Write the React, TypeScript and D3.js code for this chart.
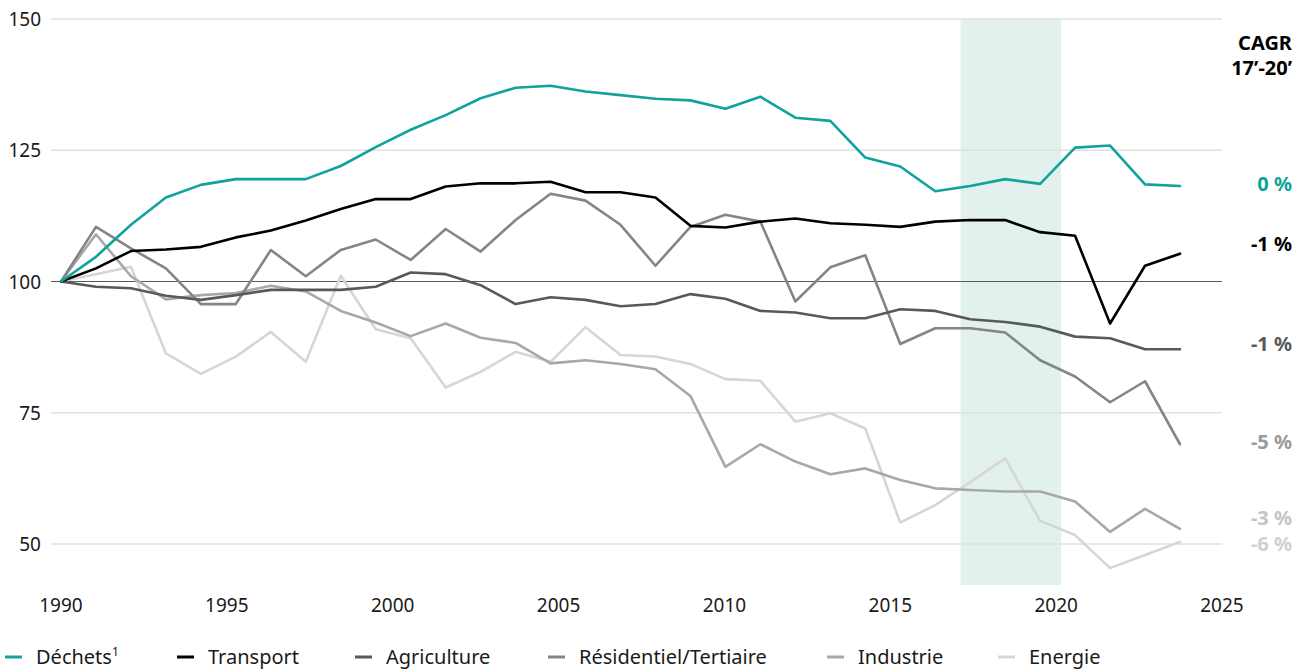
import React from "react";
import * as d3 from "d3";

const years: number[] = d3.range(1990, 2023);
const axisYears: number[] = [1990, 1995, 2000, 2005, 2010, 2015, 2020, 2025];
const yTicks: number[] = [50, 75, 100, 125, 150];

const dechets = [100, 104.7, 110.8, 116.0, 118.4, 119.5, 119.5, 119.5, 122.0, 125.6, 128.9, 131.7, 134.9, 136.9, 137.3, 136.2, 135.5, 134.8, 134.5, 132.9, 135.2, 131.2, 130.6, 123.6, 121.9, 117.2, 118.2, 119.5, 118.6, 125.5, 125.9, 118.5, 118.2];
const transport = [100, 102.5, 105.8, 106.1, 106.6, 108.4, 109.7, 111.6, 113.8, 115.7, 115.7, 118.1, 118.7, 118.7, 119.0, 117.0, 117.0, 116.0, 110.6, 110.3, 111.4, 112.0, 111.1, 110.8, 110.4, 111.4, 111.7, 111.7, 109.4, 108.7, 92.0, 103.0, 105.3];
const agriculture = [100, 99.0, 98.7, 97.3, 96.5, 97.4, 98.4, 98.4, 98.4, 99.0, 101.7, 101.4, 99.3, 95.7, 97.0, 96.5, 95.3, 95.7, 97.6, 96.7, 94.4, 94.1, 93.0, 93.0, 94.7, 94.4, 92.8, 92.3, 91.4, 89.5, 89.2, 87.1, 87.1];
const residentiel = [100, 110.4, 106.3, 102.5, 95.7, 95.7, 106.0, 101.0, 106.0, 108.0, 104.1, 110.0, 105.7, 111.7, 116.7, 115.4, 110.8, 103.0, 110.4, 112.7, 111.4, 96.2, 102.7, 105.0, 88.1, 91.1, 91.1, 90.3, 85.0, 81.9, 77.0, 81.0, 69.0];
const industrie = [100, 109.0, 101.0, 96.6, 97.4, 97.8, 99.2, 98.1, 94.4, 92.2, 89.6, 92.0, 89.3, 88.3, 84.4, 85.0, 84.3, 83.3, 78.2, 64.7, 69.0, 65.7, 63.3, 64.4, 62.2, 60.6, 60.3, 60.0, 60.0, 58.1, 52.3, 56.7, 52.9];
const energie = [100, 101.4, 102.8, 86.3, 82.4, 85.7, 90.4, 84.7, 101.1, 90.9, 89.2, 79.8, 82.8, 86.6, 84.7, 91.3, 86.0, 85.7, 84.3, 81.4, 81.1, 73.3, 74.9, 72.0, 54.1, 57.4, 61.8, 66.3, 54.4, 51.7, 45.4, 47.9, 50.4];

const seriesNames = ["Déchets", "Transport", "Agriculture", "Résidentiel/Tertiaire", "Industrie", "Energie"];
const seriesValues = [dechets, transport, agriculture, residentiel, industrie, energie];
const seriesColors = ["#10a39b", "#000000", "#595959", "#858585", "#a8a8a8", "#d6d6d6"];
const cagrLabels = ["0 %", "-1 %", "-1 %", "-5 %", "-3 %", "-6 %"];
const cagrValues = [118.6, 107.1, 88.1, 69.4, 55.0, 50.0];
const cagrColors = ["#10a39b", "#000000", "#595959", "#9a9a9a", "#c4c4c4", "#d0d0d0"];
const legendX = [5, 177, 355, 548, 827, 998];
const shade = [2017.12, 2020.15];

const FONT = "'Noto Sans', 'Open Sans', sans-serif";

export default function App() {
  const W = 1306, H = 669;
  const y = d3.scaleLinear().domain([50, 150]).range([544, 19]);
  const xAxis = d3.scaleLinear().domain([1990, 2025]).range([61, 1222]);
  const xData = d3.scaleLinear().domain([1990, 2022]).range([61, 1180]);
  const line = d3
    .line<number>()
    .x((_, i) => xData(years[i]))
    .y((v) => y(v));
  const drawOrder = [5, 4, 3, 2, 1, 0];

  return (
    <svg
      width={W}
      height={H}
      style={{ position: "absolute", left: 0, top: 0, display: "block", background: "#fff" }}
      fontFamily={FONT}
    >
      <rect
        x={xAxis(shade[0])}
        y={19}
        width={xAxis(shade[1]) - xAxis(shade[0])}
        height={585 - 19}
        fill="#e2f1ee"
      />
      {yTicks.map((t) => (
        <g key={t}>
          <line
            x1={51}
            x2={1222}
            y1={y(t)}
            y2={y(t)}
            stroke={t === 100 ? "#5a5a5a" : "#e0e0e0"}
            strokeWidth={t === 100 ? 1.2 : 1.5}
          />
          <text x={41} y={y(t) + 7} textAnchor="end" fontSize={19} fill="#1a1a1a">
            {t}
          </text>
        </g>
      ))}
      {axisYears.map((yr) => (
        <text key={yr} x={xAxis(yr)} y={612} textAnchor="middle" fontSize={19} fill="#1a1a1a">
          {yr}
        </text>
      ))}
      {drawOrder.map((k) => (
        <path
          key={seriesNames[k]}
          d={line(seriesValues[k]) || ""}
          fill="none"
          stroke={seriesColors[k]}
          strokeWidth={2.6}
          strokeLinejoin="round"
          strokeLinecap="round"
        />
      ))}
      <text x={1292} y={50} textAnchor="end" fontSize={20} fontWeight="bold" fill="#000">
        CAGR
      </text>
      <text x={1292} y={75} textAnchor="end" fontSize={20} fontWeight="bold" fill="#000">
        17’-20’
      </text>
      {cagrLabels.map((lab, i) => (
        <text
          key={i}
          x={1292}
          y={y(cagrValues[i]) + 7}
          textAnchor="end"
          fontSize={20}
          fontWeight="bold"
          fill={cagrColors[i]}
        >
          {lab}
        </text>
      ))}
      {seriesNames.map((name, i) => (
        <g key={name} transform={`translate(${legendX[i]},657)`}>
          <line x1={0} x2={17} y1={0} y2={0} stroke={seriesColors[i]} strokeWidth={3} />
          <text x={31} y={7} fontSize={20} fill="#1a1a1a">
            {name}
            {i === 0 ? (
              <tspan dy={-8} fontSize={12}>
                1
              </tspan>
            ) : null}
          </text>
        </g>
      ))}
    </svg>
  );
}
